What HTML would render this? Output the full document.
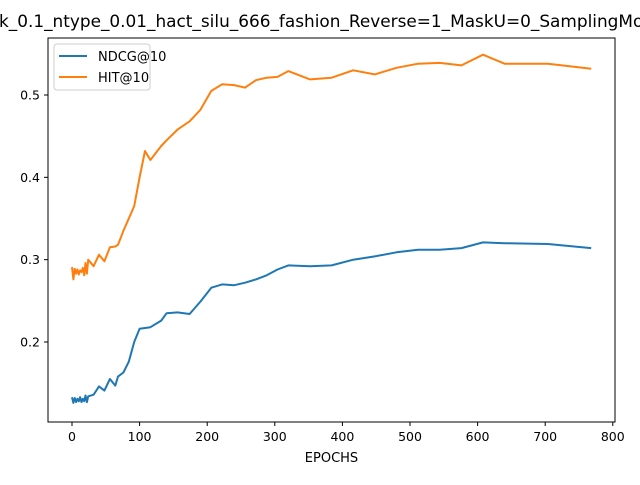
<!DOCTYPE html>
<html><head><meta charset="utf-8"><style>
body{margin:0;background:#fff;width:640px;height:480px;overflow:hidden}
svg text{font-family:"DejaVu Sans","Liberation Sans",sans-serif;}
</style></head><body>
<svg id="chart" width="640" height="480" xmlns="http://www.w3.org/2000/svg">
<rect width="640" height="480" fill="#fff"/>
<text x="-1" y="27" font-size="16.9" text-anchor="start">k_0.1_ntype_0.01_hact_silu_666_fashion_Reverse=1_MaskU=0_SamplingMode</text>
<g id="plot"></g>
<rect x="48" y="38" width="567" height="384" fill="none" stroke="#000" stroke-width="1"/>
<g id="axes"></g>
<text x="331.5" y="462" font-size="13" text-anchor="middle">EPOCHS</text>
<g>
<rect x="54" y="44" width="96" height="46" rx="3" fill="#fff" fill-opacity="0.8" stroke="#ccc"/>
<line x1="59" y1="56" x2="87" y2="56" stroke="#1f77b4" stroke-width="2"/>
<text x="98" y="61" font-size="13">NDCG@10</text>
<line x1="59" y1="77" x2="87" y2="77" stroke="#ff7f0e" stroke-width="2"/>
<text x="98" y="82" font-size="13">HIT@10</text>
</g>
</svg>
<script>
const epochs=[0,2,4,6,8,10,12,14,16,18,20,22,24,32,40,48,56,64,68,76,84,92,100,108,116,132,140,156,174,190,206,222,240,256,272,288,304,320,352,384,416,448,480,512,544,576,608,640,704,768];
const ndcg=[.133,.126,.132,.127,.131,.128,.133,.127,.131,.128,.135,.127,.134,.136,.146,.141,.155,.147,.158,.163,.176,.200,.216,.217,.218,.226,.235,.236,.234,.249,.266,.270,.269,.272,.276,.281,.288,.293,.292,.293,.300,.304,.309,.312,.312,.314,.321,.320,.319,.314];
const hit=[.291,.276,.289,.283,.288,.282,.287,.285,.290,.281,.296,.283,.300,.292,.306,.298,.315,.316,.318,.335,.350,.365,.400,.432,.421,.438,.445,.458,.468,.482,.505,.513,.512,.509,.518,.521,.522,.529,.519,.521,.530,.525,.533,.538,.539,.536,.549,.538,.538,.532];
const xTicks=[0,100,200,300,400,500,600,700,800];
const yTicks=[0.2,0.3,0.4,0.5];
const NS="http://www.w3.org/2000/svg";
function xs(e){return 72+e*0.676;}
function ys(v){return 95+(0.5-v)*823.3;}
const plot=document.getElementById('plot'),axes=document.getElementById('axes');
function line(vals,color,name){
  const p=document.createElementNS(NS,'polyline');
  p.setAttribute('points',vals.map((v,i)=>xs(epochs[i]).toFixed(1)+','+ys(v).toFixed(1)).join(' '));
  p.setAttribute('fill','none');p.setAttribute('stroke',color);p.setAttribute('stroke-width','2');p.setAttribute('stroke-linejoin','round');
  
  
  plot.appendChild(p);
}
line(ndcg,'#1f77b4','ndcg-line');
line(hit,'#ff7f0e','hit-line');
xTicks.forEach(t=>{
  const x=xs(t);
  const l=document.createElementNS(NS,'line');
  l.setAttribute('x1',x);l.setAttribute('x2',x);l.setAttribute('y1',422);l.setAttribute('y2',426);l.setAttribute('stroke','#000');
  
  
  axes.appendChild(l);
  const tx=document.createElementNS(NS,'text');
  tx.setAttribute('x',x);tx.setAttribute('y',441);tx.setAttribute('font-size','12.5');tx.setAttribute('text-anchor','middle');
  tx.textContent=t;
  
  
  axes.appendChild(tx);
});
yTicks.forEach(t=>{
  const y=ys(t);
  const l=document.createElementNS(NS,'line');
  l.setAttribute('x1',44);l.setAttribute('x2',48);l.setAttribute('y1',y);l.setAttribute('y2',y);l.setAttribute('stroke','#000');
  
  
  axes.appendChild(l);
  const tx=document.createElementNS(NS,'text');
  tx.setAttribute('x',40);tx.setAttribute('y',y+4.5);tx.setAttribute('font-size','12.5');tx.setAttribute('text-anchor','end');
  tx.textContent=t.toFixed(1);
  
  
  axes.appendChild(tx);
});
</script>
</body></html>
